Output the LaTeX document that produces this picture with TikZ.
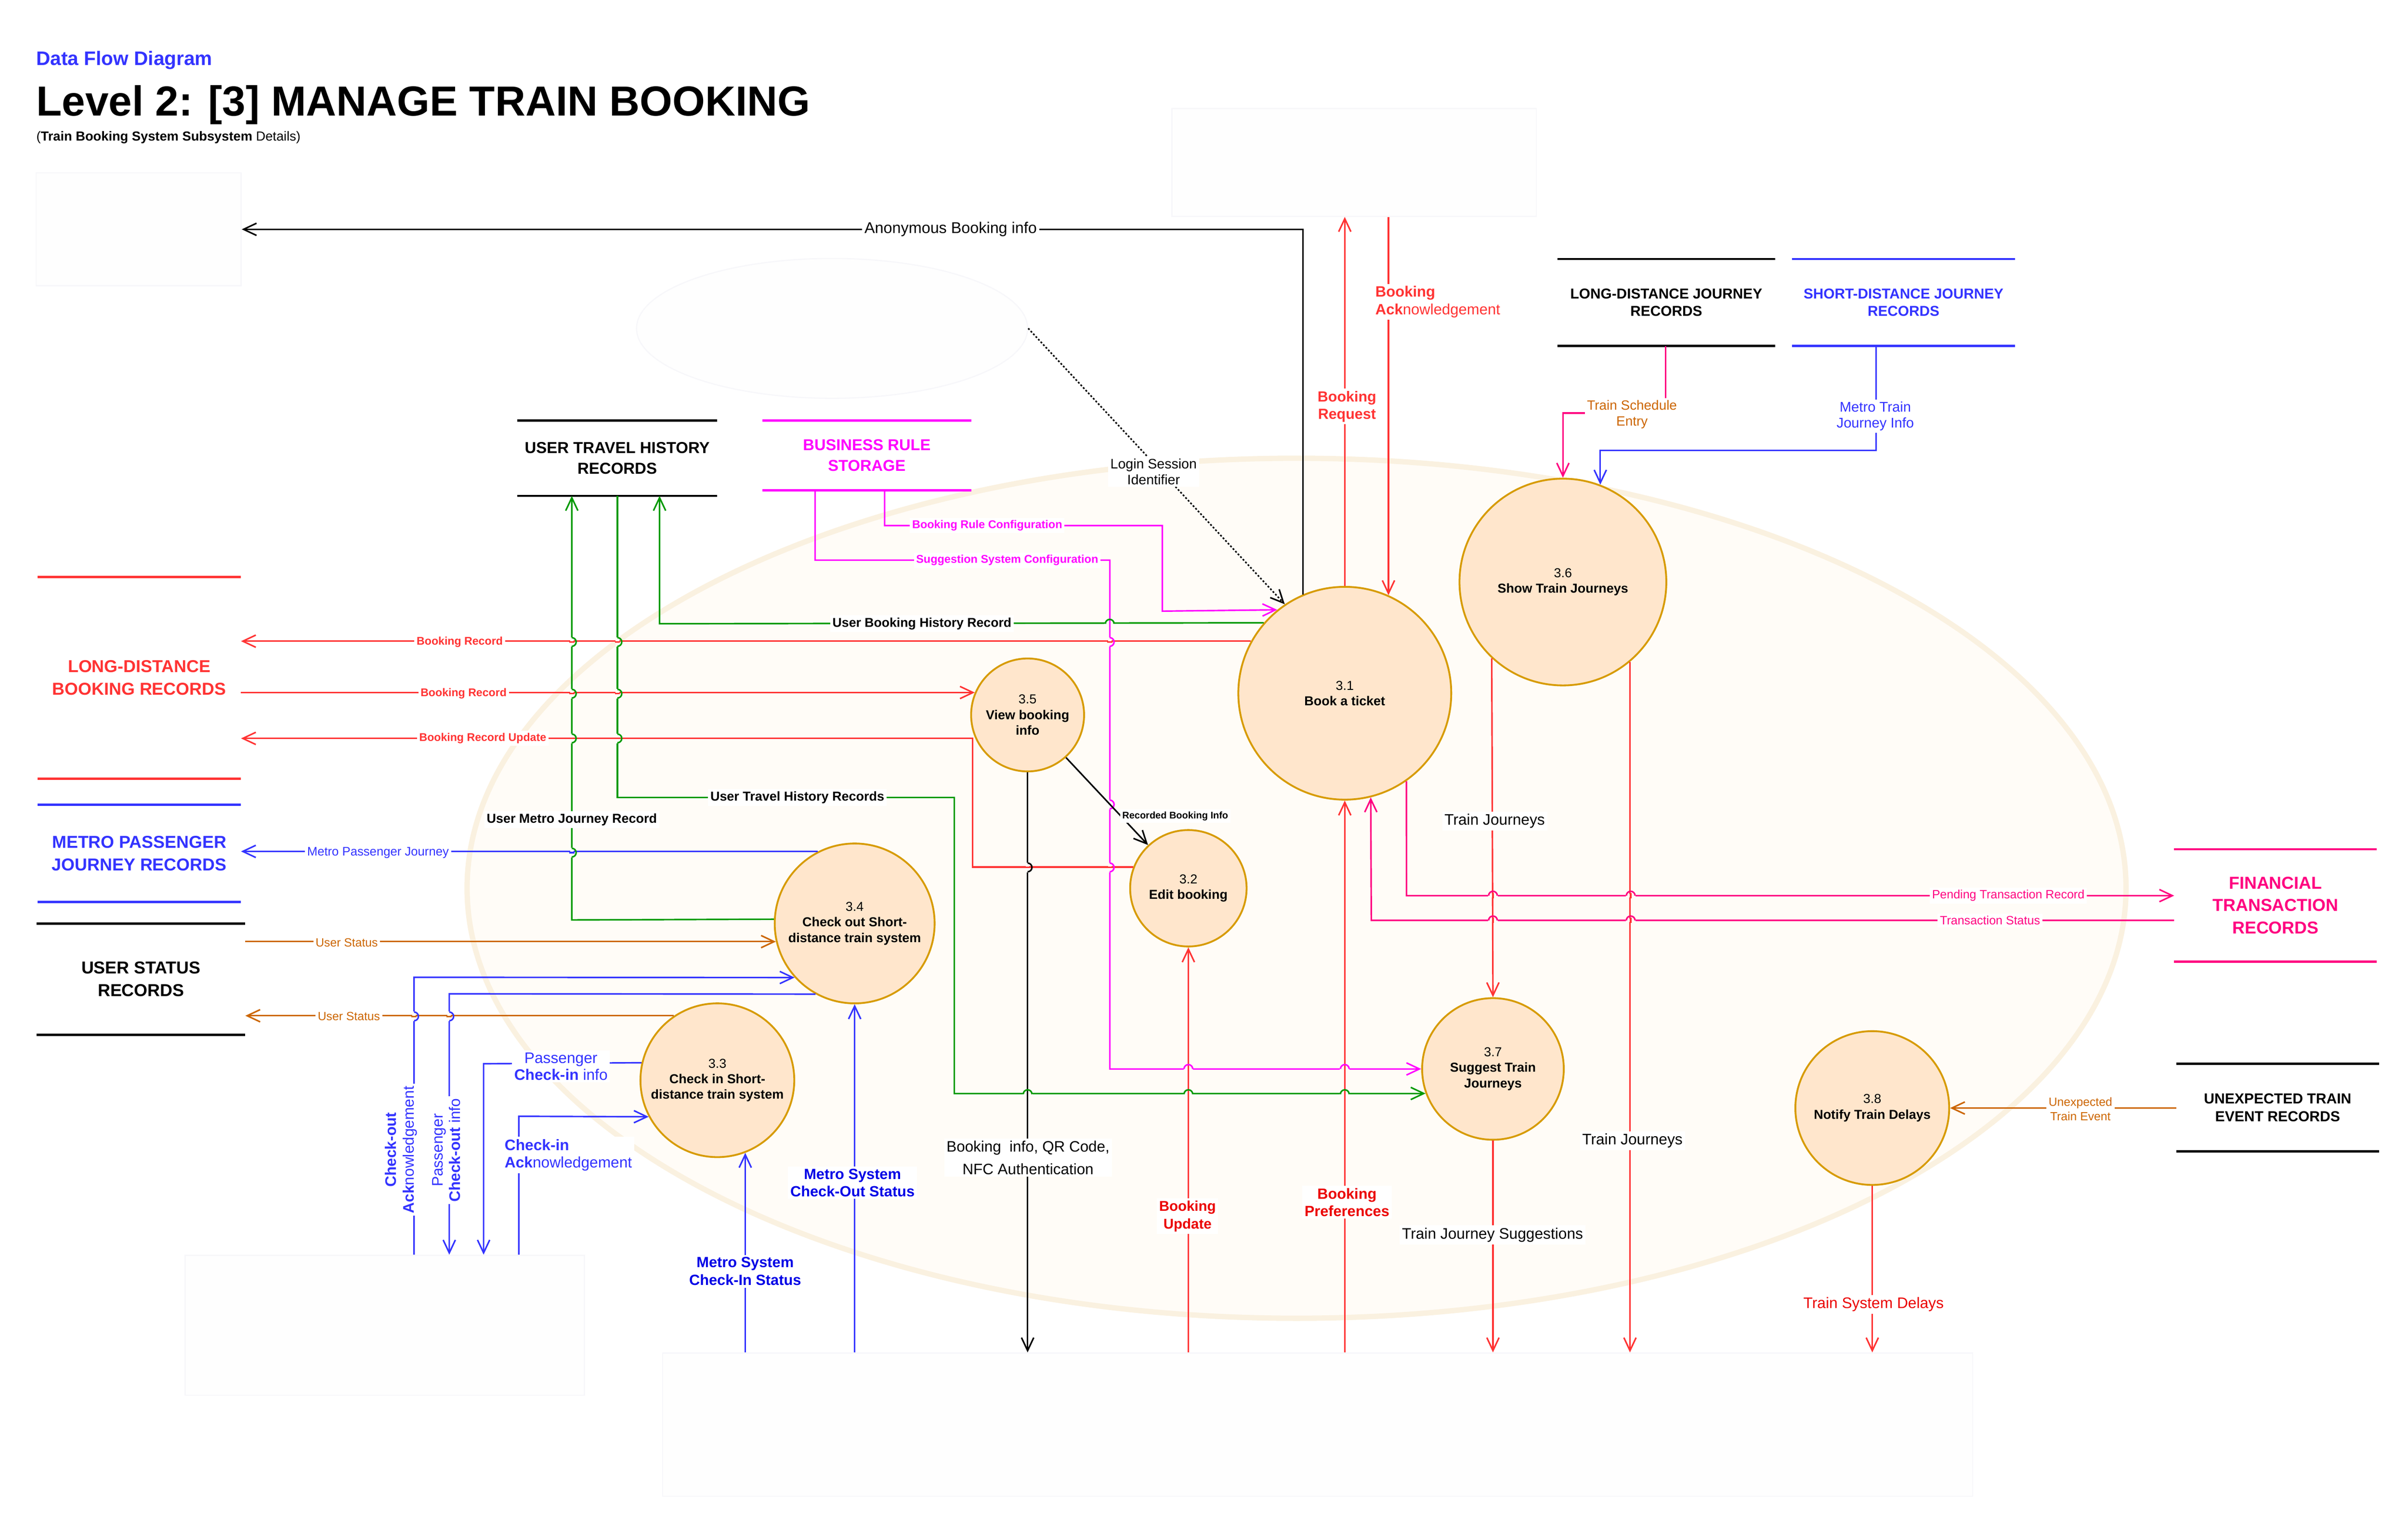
\documentclass[tikz,border=0pt]{standalone}
\usepackage{fontspec}
\setmainfont{Liberation Sans}
\usetikzlibrary{arrows.meta}
\usetikzlibrary{shapes.geometric}
\usepackage{xcolor}
\definecolor{dfdred}{RGB}{255,51,51}
\definecolor{dfdblue}{RGB}{51,51,255}
\definecolor{dfdgreen}{RGB}{0,153,0}
\definecolor{dfdmagenta}{RGB}{255,0,255}
\definecolor{dfdpink}{RGB}{255,0,128}
\definecolor{dfdorange}{RGB}{204,102,0}
\definecolor{lblred}{RGB}{235,0,0}
\definecolor{lblblue}{RGB}{0,0,230}
\definecolor{procfill}{RGB}{255,230,204}
\definecolor{procline}{RGB}{215,155,0}
\definecolor{sysfill}{RGB}{255,252,247}
\definecolor{sysline}{RGB}{250,241,224}
\definecolor{ghostline}{RGB}{247,247,250}
\definecolor{ghostfill}{RGB}{254,254,254}
\tikzset{
  >={Straight Barb[length=8.5pt,width=8pt]}, % open arrow heads
  process/.style={circle,draw=procline,fill=procfill,line width=1.2pt,inner sep=0pt,align=center,
    font=\fontsize{8.5}{10.2}\selectfont},
  store/.style={inner sep=0pt,align=center,text=#1,
    append after command={(\tikzlastnode.north west) edge[draw=#1,line width=1.5pt] (\tikzlastnode.north east)
      (\tikzlastnode.south west) edge[draw=#1,line width=1.5pt] (\tikzlastnode.south east)}},
  ghost/.style={draw=ghostline,fill=ghostfill,line width=0.8pt,inner sep=0pt},
  boundary/.style={ellipse,draw=sysline,fill=sysfill,line width=3.5pt,inner sep=0pt},
  flow/.style={->,line width=1pt},
  flow label/.style={fill=white,inner sep=1.5pt,align=center},
  hop gap/.style={fill=sysfill}
}
% line jumps: a vertical line hopping over a horizontal one, and the other way round
\newcommand{\hopv}[4]{%
  \fill[hop gap] (#1-0.04,#2-0.11) rectangle (#1+0.04,#2+0.11);
  \draw[#4,line width=1pt] (#1-0.06,#2) -- (#1+0.06,#2);
  \draw[#3,line width=1pt] (#1,#2+0.1) arc[start angle=90,end angle=-90,radius=0.1];}
\newcommand{\hoph}[4]{%
  \fill[hop gap] (#1-0.11,#2-0.04) rectangle (#1+0.11,#2+0.04);
  \draw[#4,line width=1pt] (#1,#2-0.06) -- (#1,#2+0.06);
  \draw[#3,line width=1pt] (#1-0.1,#2) arc[start angle=180,end angle=0,radius=0.1];}

\begin{document}
\begin{tikzpicture}
  \fill[white] (0,0) rectangle (55.42,-35.22);
  \useasboundingbox (0,0) rectangle (55.42,-35.22);

  % heading
  \node[anchor=base west, inner sep=0pt, text=dfdblue, font=\bfseries\fontsize{12.8}{15}\selectfont] (kicker) at (0.83,-1.50) {Data Flow Diagram};
  \node[anchor=base west, inner sep=0pt, font=\bfseries\fontsize{27.5}{33}\selectfont] (title) at (0.83,-2.67) {Level 2: [3] MANAGE TRAIN BOOKING};
  \node[anchor=base west, inner sep=0pt, font=\fontsize{8.6}{10}\selectfont] (subtitle) at (0.83,-3.24) {(\textbf{Train Booking System Subsystem} Details)};

  % system boundary and the faint outside entities
  \node[boundary, minimum width=38.18cm, minimum height=19.8cm] (sys) at (29.84,-20.45) {};
  \node[ghost, rectangle, minimum width=4.72cm, minimum height=2.6cm] (ghostA) at (3.19,-5.28) {};
  \node[ghost, ellipse, minimum width=9.0cm, minimum height=3.22cm] (ghostT) at (19.15,-7.56) {};
  \node[ghost, rectangle, minimum width=8.39cm, minimum height=2.48cm] (ghostR) at (31.165,-3.74) {};
  \node[ghost, rectangle, minimum width=9.19cm, minimum height=3.22cm] (ghostL) at (8.855,-30.51) {};
  \node[ghost, rectangle, minimum width=30.15cm, minimum height=3.30cm] (ghostB) at (30.325,-32.80) {};

  % data stores
  \node[store=black, minimum width=4.59cm, minimum height=1.72cm, font=\bfseries\fontsize{10.4}{13.4}\selectfont] (uthr) at (14.205,-10.55) {USER TRAVEL HISTORY\\RECORDS};
  \node[store=dfdmagenta, minimum width=4.8cm, minimum height=1.59cm, font=\bfseries\fontsize{10.3}{13.6}\selectfont] (brs) at (19.95,-10.485) {BUSINESS RULE\\STORAGE};
  \node[store=black, minimum width=5.0cm, minimum height=1.99cm, font=\bfseries\fontsize{9.4}{11.4}\selectfont] (ldjr) at (38.35,-6.965) {LONG-DISTANCE JOURNEY\\RECORDS};
  \node[store=dfdblue, minimum width=5.12cm, minimum height=1.99cm, font=\bfseries\fontsize{9.4}{11.4}\selectfont] (sdjr) at (43.81,-6.965) {SHORT-DISTANCE JOURNEY\\RECORDS};
  \node[store=dfdred, minimum width=4.67cm, minimum height=4.63cm, font=\bfseries\fontsize{11.3}{14.8}\selectfont] (ldbr) at (3.205,-15.605) {LONG-DISTANCE\\BOOKING RECORDS};
  \node[store=dfdblue, minimum width=4.67cm, minimum height=2.23cm, font=\bfseries\fontsize{11.3}{14.8}\selectfont] (mpjr) at (3.205,-19.645) {METRO PASSENGER\\JOURNEY RECORDS};
  \node[store=black, minimum width=4.79cm, minimum height=2.55cm, font=\bfseries\fontsize{11.3}{14.8}\selectfont] (usr) at (3.245,-22.545) {USER STATUS\\RECORDS};
  \node[store=dfdpink, minimum width=4.65cm, minimum height=2.57cm, font=\bfseries\fontsize{11.3}{14.8}\selectfont] (ftr) at (52.37,-20.845) {FINANCIAL\\TRANSACTION\\RECORDS};
  \node[store=black, minimum width=4.65cm, minimum height=2.0cm, font=\bfseries\fontsize{9.5}{11.4}\selectfont] (uter) at (52.42,-25.50) {UNEXPECTED TRAIN\\EVENT RECORDS};

  % processes
  \node[process, minimum size=4.9cm] (p31) at (30.95,-15.96) {3.1\\\textbf{Book a ticket}};
  \node[process, minimum size=4.76cm] (p36) at (35.97,-13.40) {3.6\\\textbf{Show Train Journeys}};
  \node[process, minimum size=2.6cm] (p35) at (23.65,-16.46) {3.5\\\textbf{View booking}\\\textbf{info}};
  \node[process, minimum size=2.68cm] (p32) at (27.35,-20.45) {3.2\\\textbf{Edit booking}};
  \node[process, minimum size=3.68cm] (p34) at (19.67,-21.26) {3.4\\\textbf{Check out Short-}\\\textbf{distance train system}};
  \node[process, minimum size=3.54cm] (p33) at (16.51,-24.87) {3.3\\\textbf{Check in Short-}\\\textbf{distance train system}};
  \node[process, minimum size=3.26cm] (p37) at (34.36,-24.61) {3.7\\\textbf{Suggest Train}\\\textbf{Journeys}};
  \node[process, minimum size=3.54cm] (p38) at (43.09,-25.51) {3.8\\\textbf{Notify Train Delays}};

  % bend points
  \coordinate (c-tse) at (38.33,-9.51);
  \coordinate (c-mtj) at (43.18,-10.37);
  \coordinate (c-brc) at (20.36,-12.10);
  \coordinate (c-brc2) at (26.75,-14.07);
  \coordinate (c-ssc) at (18.76,-12.90);
  \coordinate (c-ssc2) at (25.54,-12.90);
  \coordinate (c-ubh) at (15.18,-14.36);
  \coordinate (c-bru) at (22.38,-17.00);
  \coordinate (c-uth) at (14.21,-18.36);
  \coordinate (c-uth2) at (21.96,-18.36);
  \coordinate (c-umj) at (13.16,-21.18);
  \coordinate (c-coa) at (9.53,-22.50);
  \coordinate (c-pco) at (10.34,-22.88);
  \coordinate (c-pci) at (11.13,-24.49);
  \coordinate (c-cia) at (11.94,-25.70);
  \coordinate (c-ts) at (31.56,-21.19);
  \coordinate (c-pt) at (32.37,-20.62);

  % flows
  \draw[flow] (p31.113.6) |- (ghostA.east);
  \draw[flow, dash pattern=on 1.2pt off 1.2pt] (ghostT.east) -- (p31.124.3);
  \draw[flow, dfdred] (p31.north) -- (p31.north |- ghostR.south);
  \draw[flow, dfdred] (p31.66.4 |- ghostR.south) -- (p31.66.4);
  \draw[flow, dfdpink] (c-tse |- ldjr.south) -- (c-tse) -| (p36.north);
  \draw[flow, dfdblue] (c-mtj |- sdjr.south) -- (c-mtj) -| (p36.69.8);
  \draw[flow, dfdmagenta] (c-brc |- brs.south) -- (c-brc) -| (c-brc2) -- (p31.129.5);
  \draw[flow, dfdmagenta] (c-ssc |- brs.south) -- (c-ssc) -- (c-ssc2) |- (p37.west);
  \draw[flow, dfdgreen] (p31.139.2) -- (c-ubh) -- (c-ubh |- uthr.south);
  \draw[flow, dfdred] (p31.151.2) -- (p31.151.2 -| ldbr.east);
  \draw[flow, dfdred] (p35.157.8 -| ldbr.east) -- (p35.157.8);
  \draw[flow, dfdred] (p32.159) -| (c-bru) -- (c-bru -| ldbr.east);
  \draw[flow, dfdgreen] (c-uth |- uthr.south) -- (c-uth) -- (c-uth2) |- (p37.200.8);
  \draw[flow, dfdgreen] (p34.177.5) -- (c-umj) -- (c-umj |- uthr.south);
  \draw[flow, dfdblue] (p34.117.5) -- (p34.117.5 -| mpjr.east);
  \draw[flow, dfdorange] (p34.193.8 -| usr.east) -- (p34.193.8);
  \draw[flow, dfdorange] (p33.124.1) -- (p33.124.1 -| usr.east);
  \draw[flow, dfdblue] (c-coa |- ghostL.north) -- (c-coa) -- (p34.222.4);
  \draw[flow, dfdblue] (p34.241.8) -- (c-pco) -- (c-pco |- ghostL.north);
  \draw[flow, dfdblue] (p33.167.6) -- (c-pci) -- (c-pci |- ghostL.north);
  \draw[flow, dfdblue] (c-cia |- ghostL.north) -- (c-cia) -- (p33.208);
  \draw[flow, dfdblue] (p33.291.5 |- ghostB.north) -- (p33.291.5);
  \draw[flow, dfdblue] (p34.south |- ghostB.north) -- (p34.south);
  \draw[flow] (p35.south) -- (p35.south |- ghostB.north);
  \draw[flow, dfdred] (p32.south |- ghostB.north) -- (p32.south);
  \draw[flow, dfdred] (p31.south |- ghostB.north) -- (p31.south);
  \draw[flow, dfdpink] (c-ts -| ftr.west) -- (c-ts) -- (p31.284.4);
  \draw[flow, dfdpink] (p31.305.4) -- (c-pt) -- (c-pt -| ftr.west);
  \draw[flow, dfdred] (p36.227.7) -- (p37.north);
  \draw[flow, dfdred] (p36.310.9) -- (p36.310.9 |- ghostB.north);
  \draw[flow, dfdred] (p37.south) -- (p37.south |- ghostB.north);
  \draw[flow, dfdorange] (uter.west |- p38.east) -- (p38.east);
  \draw[flow, dfdred] (p38.south) -- (p38.south |- ghostB.north);

  % line jumps
  \hopv{13.16}{-14.78}{dfdgreen}{dfdred}
  \hopv{13.16}{-15.97}{dfdgreen}{dfdred}
  \hopv{13.16}{-17.00}{dfdgreen}{dfdred}
  \hopv{13.16}{-19.63}{dfdgreen}{dfdblue}
  \hopv{14.21}{-14.78}{dfdgreen}{dfdred}
  \hopv{14.21}{-15.97}{dfdgreen}{dfdred}
  \hopv{14.21}{-17.00}{dfdgreen}{dfdred}
  \hopv{25.54}{-14.78}{dfdmagenta}{dfdred}
  \hopv{25.54}{-18.52}{dfdmagenta}{draw=none}
  \hopv{25.54}{-19.97}{dfdmagenta}{dfdred}
  \hopv{23.65}{-19.97}{black}{dfdred}
  \hopv{9.53}{-23.40}{dfdblue}{dfdorange}
  \hopv{10.34}{-23.40}{dfdblue}{dfdorange}
  \hoph{25.54}{-14.36}{dfdgreen}{dfdmagenta}
  \hoph{23.65}{-25.19}{dfdgreen}{black}
  \hoph{27.35}{-25.19}{dfdgreen}{dfdred}
  \hoph{30.95}{-25.19}{dfdgreen}{dfdred}
  \hoph{27.35}{-24.61}{dfdmagenta}{dfdred}
  \hoph{30.95}{-24.61}{dfdmagenta}{dfdred}
  \hoph{34.36}{-20.62}{dfdpink}{dfdred}
  \hoph{37.53}{-20.62}{dfdpink}{dfdred}
  \hoph{34.36}{-21.19}{dfdpink}{dfdred}
  \hoph{37.53}{-21.19}{dfdpink}{dfdred}
  \draw[flow] (p35.312.2) -- (p32.133.5);

  % labels
  \node[flow label, font=\fontsize{10.2}{12}\selectfont] (l-anon) at (21.88,-5.28) {Anonymous Booking info};
  \node[flow label, font=\fontsize{9}{10.2}\selectfont] (l-login) at (26.55,-10.86) {Login Session\\Identifier};
  \node[flow label, text=dfdred, font=\bfseries\fontsize{9.6}{11.4}\selectfont] (l-breq) at (31.00,-9.36) {Booking\\Request};
  \node[flow label, text=dfdred, align=left, font=\fontsize{9.8}{11.4}\selectfont] (l-back) at (33.09,-6.95) {\textbf{Booking}\\\textbf{Ack}nowledgement};
  \node[flow label, text=dfdorange, font=\fontsize{8.8}{10.2}\selectfont] (l-tse) at (37.56,-9.54) {Train Schedule\\Entry};
  \node[flow label, text=dfdblue, font=\fontsize{9.2}{10.2}\selectfont] (l-mtj) at (43.16,-9.58) {Metro Train\\Journey Info};
  \node[flow label, text=dfdmagenta, font=\bfseries\fontsize{7.4}{9}\selectfont] (l-brc) at (22.72,-12.10) {Booking Rule Configuration};
  \node[flow label, text=dfdmagenta, font=\bfseries\fontsize{7.4}{9}\selectfont] (l-ssc) at (23.18,-12.90) {Suggestion System Configuration};
  \node[flow label, font=\bfseries\fontsize{8.4}{10}\selectfont] (l-ubh) at (21.22,-14.36) {User Booking History Record};
  \node[flow label, text=dfdred, font=\bfseries\fontsize{7.3}{9}\selectfont] (l-br1) at (10.58,-14.78) {Booking Record};
  \node[flow label, text=dfdred, font=\bfseries\fontsize{7.3}{9}\selectfont] (l-br2) at (10.67,-15.97) {Booking Record};
  \node[flow label, text=dfdred, font=\bfseries\fontsize{7.3}{9}\selectfont] (l-bru) at (11.11,-17.00) {Booking Record Update};
  \node[flow label, anchor=west, font=\bfseries\fontsize{6.3}{8}\selectfont] (l-rbi) at (25.77,-18.79) {Recorded Booking Info};
  \node[flow label, font=\bfseries\fontsize{8.5}{10}\selectfont] (l-uth) at (18.35,-18.36) {User Travel History Records};
  \node[flow label, font=\bfseries\fontsize{8.5}{10}\selectfont] (l-umj) at (13.16,-18.87) {User Metro Journey Record};
  \node[flow label, text=dfdblue, font=\fontsize{8.1}{10}\selectfont] (l-mpj) at (8.70,-19.63) {Metro Passenger Journey};
  \node[flow label, text=dfdorange, font=\fontsize{7.8}{9}\selectfont] (l-us1) at (7.98,-21.70) {User Status};
  \node[flow label, text=dfdorange, font=\fontsize{7.8}{9}\selectfont] (l-us2) at (8.03,-23.40) {User Status};
  \node[flow label, rotate=90, text=dfdblue, font=\fontsize{10}{11.5}\selectfont] (l-coa) at (9.23,-26.47) {\textbf{Check-out}\\\textbf{Ack}nowledgement};
  \node[flow label, rotate=90, text=dfdblue, font=\fontsize{10}{11.5}\selectfont] (l-pco) at (10.27,-26.48) {Passenger\\\textbf{Check-out} info};
  \node[flow label, text=dfdblue, font=\fontsize{10}{11.1}\selectfont] (l-pci) at (12.91,-24.55) {Passenger\\\textbf{Check-in} info};
  \node[flow label, text=dfdblue, align=left, font=\fontsize{10}{11.4}\selectfont] (l-cia) at (13.08,-26.59) {\textbf{Check-in}\\\textbf{Ack}nowledgement};
  \node[flow label, text=lblblue, font=\bfseries\fontsize{9.7}{11.7}\selectfont] (l-mci) at (17.15,-29.27) {Metro System\\Check-In Status};
  \node[flow label, text=lblblue, font=\bfseries\fontsize{9.7}{11.4}\selectfont] (l-mco) at (19.62,-27.23) {Metro System\\Check-Out Status};
  \node[flow label, font=\fontsize{9.9}{14.8}\selectfont] (l-bqr) at (23.66,-26.65) {Booking~ info, QR Code,\\NFC Authentication};
  \node[flow label, text=lblred, font=\bfseries\fontsize{9.3}{11.6}\selectfont] (l-bup) at (27.33,-28.00) {Booking\\Update};
  \node[flow label, text=lblred, font=\bfseries\fontsize{9.7}{11.4}\selectfont] (l-bpr) at (31.00,-27.68) {Booking\\Preferences};
  \node[flow label, text=dfdpink, font=\fontsize{7.9}{9}\selectfont] (l-ptr) at (46.22,-20.62) {Pending Transaction Record};
  \node[flow label, text=dfdpink, font=\fontsize{7.9}{9}\selectfont] (l-ts) at (45.80,-21.19) {Transaction Status};
  \node[flow label, font=\fontsize{10}{12}\selectfont] (l-tj1) at (34.40,-18.90) {Train Journeys};
  \node[flow label, font=\fontsize{10}{12}\selectfont] (l-tj2) at (37.57,-26.26) {Train Journeys};
  \node[flow label, font=\fontsize{10}{12}\selectfont] (l-tjs) at (34.35,-28.43) {Train Journey Suggestions};
  \node[flow label, text=dfdorange, font=\fontsize{7.8}{9.4}\selectfont] (l-ute) at (47.88,-25.53) {Unexpected\\Train Event};
  \node[flow label, text=lblred, font=\fontsize{10}{12}\selectfont] (l-tsd) at (43.12,-30.03) {Train System Delays};
\end{tikzpicture}
\end{document}
